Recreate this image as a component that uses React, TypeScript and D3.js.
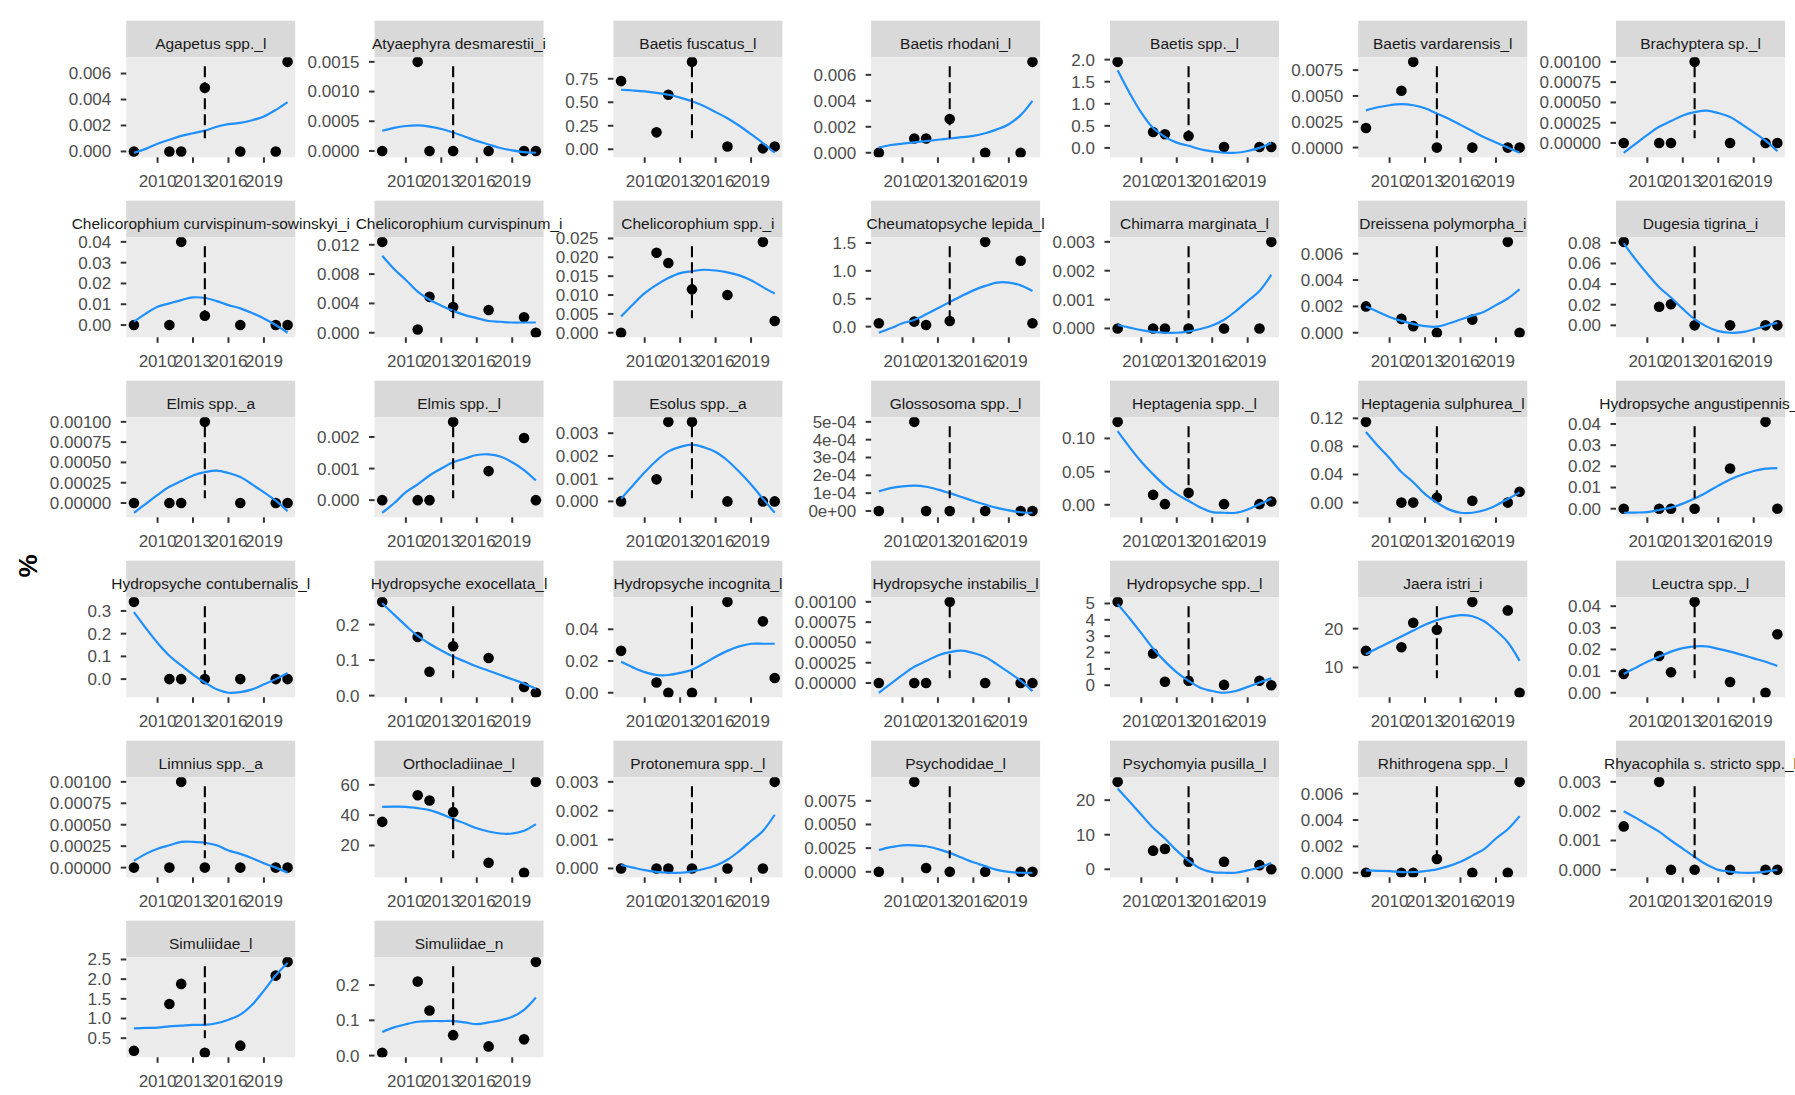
import React, { useMemo } from 'react';
import * as d3 from 'd3';

// ---------------- DATA ----------------
const taxa: string[] = [
  'Agapetus spp._l', 'Atyaephyra desmarestii_i', 'Baetis fuscatus_l', 'Baetis rhodani_l', 'Baetis spp._l', 'Baetis vardarensis_l', 'Brachyptera sp._l',
  'Chelicorophium curvispinum-sowinskyi_i', 'Chelicorophium curvispinum_i', 'Chelicorophium spp._i', 'Cheumatopsyche lepida_l', 'Chimarra marginata_l', 'Dreissena polymorpha_i', 'Dugesia tigrina_i',
  'Elmis spp._a', 'Elmis spp._l', 'Esolus spp._a', 'Glossosoma spp._l', 'Heptagenia spp._l', 'Heptagenia sulphurea_l', 'Hydropsyche angustipennis_l',
  'Hydropsyche contubernalis_l', 'Hydropsyche exocellata_l', 'Hydropsyche incognita_l', 'Hydropsyche instabilis_l', 'Hydropsyche spp._l', 'Jaera istri_i', 'Leuctra spp._l',
  'Limnius spp._a', 'Orthocladiinae_l', 'Protonemura spp._l', 'Psychodidae_l', 'Psychomyia pusilla_l', 'Rhithrogena spp._l', 'Rhyacophila s. stricto spp._l',
  'Simuliidae_l', 'Simuliidae_n',
];

const sampleYears: number[] = [2008, 2011, 2012, 2014, 2017, 2020, 2021];

// observed % per taxon, one value per sample year
const abundance: number[][] = [
  [0, 0, 0, 0.0049, 0, 0, 0.0069],
  [0, 0.0015, 0, 0, 0, 0, 0],
  [0.725, 0.18, 0.58, 0.93, 0.03, 0.01, 0.03],
  [0, 0.0011, 0.0011, 0.0026, 0, 0, 0.007],
  [1.95, 0.36, 0.31, 0.27, 0.02, 0.02, 0.02],
  [0.0019, 0.0055, 0.0083, 0, 0, 0, 0],
  [0, 0, 0, 0.001, 0, 0, 0],
  [0, 0, 0.04, 0.0045, 0, 0, 0],
  [0.0124, 0.00045, 0.0049, 0.0035, 0.0031, 0.0021, 0],
  [0, 0.0212, 0.0185, 0.0115, 0.01, 0.0241, 0.0031],
  [0.06, 0.09, 0.03, 0.1, 1.52, 1.18, 0.06],
  [0, 0, 0, 0, 0, 0, 0.003],
  [0.002, 0.00105, 0.0005, 0, 0.001, 0.0069, 0],
  [0.081, 0.018, 0.0205, 0, 0, 0, 0],
  [0, 0, 0, 0.001, 0, 0, 0],
  [0, 0, 0, 0.00248, 0.00092, 0.00197, 0],
  [0, 0.00097, 0.0035, 0.0035, 0, 0, 0],
  [0, 0.0005, 0, 0, 0, 0, 0],
  [0.125, 0.015, 0.001, 0.018, 0.001, 0.001, 0.005],
  [0.115, 0, 0, 0.007, 0.0025, 0, 0.0155],
  [0, 0, 0, 0, 0.019, 0.041, 0],
  [0.34, 0, 0, 0, 0, 0, 0],
  [0.264, 0.165, 0.067, 0.139, 0.106, 0.024, 0.008],
  [0.0264, 0.0065, 0, 0, 0.0573, 0.045, 0.0093],
  [0, 0, 0, 0.001, 0, 0, 0],
  [5.1, 1.94, 0.21, 0.27, 0.02, 0.27, 0],
  [14.3, 15.2, 21.5, 19.7, 26.9, 24.7, 3.5],
  [0.0087, 0.017, 0.0095, 0.042, 0.005, 0, 0.027],
  [0, 0, 0.001, 0, 0, 0, 0],
  [35.6, 53.2, 49.7, 42.0, 8.6, 2.0, 62.0],
  [0, 0, 0, 0, 0, 0, 0.003],
  [0, 0.0095, 0.0004, 0, 0, 0, 0],
  [25.3, 5.4, 5.9, 2.2, 2.2, 1.2, 0],
  [0, 0, 0, 0.00104, 0, 0, 0.0069],
  [0.00148, 0.003, 0, 0, 0, 0, 0],
  [0.18, 1.37, 1.88, 0.13, 0.31, 2.09, 2.44],
  [0.008, 0.21, 0.128, 0.058, 0.026, 0.046, 0.266],
];

const fitYears: number[] = [2008, 2009, 2010, 2011, 2012, 2013, 2014, 2015, 2016, 2017, 2018, 2019, 2020, 2021];

// smoothed trend, one value per fit year
const fitted: number[][] = [
  [-0.0001, 0.0002, 0.0006, 0.0009, 0.0012, 0.0014, 0.0016, 0.0019, 0.0021, 0.0022, 0.0024, 0.0027, 0.0032, 0.0038],
  [0.00034, 0.00039, 0.00042, 0.00043, 0.00041, 0.00037, 0.00031, 0.00024, 0.00017, 0.00011, 0.00005, 0.00001, -0.00002, -0.00003],
  [0.633, 0.625, 0.615, 0.6, 0.58, 0.55, 0.51, 0.46, 0.395, 0.33, 0.25, 0.16, 0.066, -0.037],
  [0.0004, 0.0006, 0.0007, 0.0008, 0.0009, 0.001, 0.0011, 0.0012, 0.0013, 0.0015, 0.0018, 0.0022, 0.0029, 0.004],
  [1.76, 1.25, 0.8, 0.45, 0.25, 0.12, 0.05, -0.03, -0.08, -0.11, -0.11, -0.07, 0.0, 0.11],
  [0.0036, 0.0039, 0.0041, 0.0042, 0.0041, 0.0038, 0.0033, 0.0028, 0.0022, 0.0016, 0.001, 0.0005, 0.0, -0.0005],
  [-0.00012, -0.00001, 0.0001, 0.0002, 0.00027, 0.00034, 0.00038, 0.0004, 0.00037, 0.00032, 0.00023, 0.00013, 0.00003, -0.0001],
  [0.0016, 0.0055, 0.0088, 0.0104, 0.012, 0.0133, 0.013, 0.0115, 0.0096, 0.008, 0.0058, 0.0032, 0.0, -0.0037],
  [0.0105, 0.0087, 0.0072, 0.0056, 0.0045, 0.0037, 0.003, 0.0024, 0.002, 0.0016, 0.0015, 0.0014, 0.0014, 0.0014],
  [0.0043, 0.0075, 0.0105, 0.0127, 0.0145, 0.0158, 0.0163, 0.0167, 0.0165, 0.016, 0.0152, 0.0139, 0.0121, 0.0104],
  [-0.11, -0.03, 0.06, 0.12, 0.22, 0.33, 0.44, 0.55, 0.65, 0.73, 0.79, 0.79, 0.74, 0.64],
  [0.00012, 0.00003, -0.00006, -0.00012, -0.00015, -0.00015, -0.0001, -0.00002, 0.0001, 0.0003, 0.0006, 0.00095, 0.0013, 0.00186],
  [0.002, 0.0016, 0.0012, 0.0009, 0.00067, 0.0005, 0.00046, 0.0007, 0.001, 0.0013, 0.0016, 0.0021, 0.0026, 0.0033],
  [0.0796, 0.064, 0.05, 0.037, 0.027, 0.016, 0.006, -0.001, -0.0056, -0.0072, -0.0066, -0.004, -0.0007, 0.0026],
  [-0.00012, -0.00001, 0.0001, 0.0002, 0.00027, 0.00034, 0.00038, 0.0004, 0.00037, 0.00032, 0.00023, 0.00013, 0.00003, -0.0001],
  [-0.0004, -0.0001, 0.00025, 0.0005, 0.00078, 0.001, 0.0012, 0.00132, 0.00143, 0.00145, 0.00138, 0.0012, 0.00095, 0.00062],
  [0.00012, 0.0007, 0.00128, 0.0018, 0.0022, 0.0024, 0.0025, 0.00238, 0.00217, 0.0018, 0.0013, 0.00074, 0.00012, -0.0005],
  [0.00011, 0.000128, 0.000138, 0.000142, 0.000136, 0.00012, 0.0001, 0.000078, 0.000056, 0.000036, 0.000017, 0.000003, -0.000007, -0.00001],
  [0.111, 0.087, 0.065, 0.046, 0.029, 0.016, 0.006, -0.004, -0.011, -0.012, -0.012, -0.007, 0.001, 0.009],
  [0.1006, 0.081, 0.063, 0.0435, 0.029, 0.012, 0.0, -0.0097, -0.0145, -0.0145, -0.011, -0.004, 0.005, 0.0145],
  [-0.0019, -0.0018, -0.0016, -0.0006, 0.0005, 0.0024, 0.0048, 0.0077, 0.0109, 0.0138, 0.016, 0.0178, 0.0189, 0.0192],
  [0.295, 0.225, 0.159, 0.103, 0.06, 0.02, -0.015, -0.045, -0.06, -0.057, -0.045, -0.023, 0.0, 0.027],
  [0.26, 0.228, 0.197, 0.168, 0.146, 0.127, 0.11, 0.096, 0.082, 0.07, 0.058, 0.046, 0.034, 0.019],
  [0.0195, 0.016, 0.013, 0.0112, 0.0112, 0.0125, 0.0145, 0.0184, 0.0227, 0.0264, 0.0292, 0.0309, 0.0309, 0.0309],
  [-0.00012, -0.00001, 0.0001, 0.0002, 0.00027, 0.00034, 0.00038, 0.0004, 0.00037, 0.00032, 0.00023, 0.00013, 0.00003, -0.0001],
  [4.96, 4.1, 3.19, 2.25, 1.46, 0.79, 0.27, -0.15, -0.35, -0.46, -0.35, -0.1, 0.17, 0.42],
  [13.4, 15.0, 16.5, 18.0, 19.5, 21.0, 22.2, 23.0, 23.5, 23.2, 21.9, 19.5, 16.5, 11.7],
  [0.0087, 0.0115, 0.0143, 0.0167, 0.019, 0.0206, 0.0214, 0.0214, 0.0203, 0.019, 0.0175, 0.0159, 0.0143, 0.0124],
  [0.00008, 0.00016, 0.00022, 0.00026, 0.0003, 0.0003, 0.00029, 0.00026, 0.0002, 0.00016, 0.00011, 0.00005, 0.0, -0.00006],
  [45.5, 45.6, 45.5, 44.6, 43.3, 40.7, 37.4, 34.5, 31.4, 29.2, 27.9, 27.9, 29.7, 34.1],
  [0.00012, 0.00003, -0.00006, -0.00012, -0.00015, -0.00015, -0.0001, -0.00002, 0.0001, 0.0003, 0.0006, 0.00095, 0.0013, 0.00186],
  [0.0023, 0.0026, 0.0028, 0.0028, 0.0027, 0.0024, 0.002, 0.0015, 0.001, 0.0006, 0.0002, 0.0, -0.0001, -0.0001],
  [23.4, 19.6, 15.8, 12.0, 8.9, 5.4, 2.5, 0.2, -0.8, -1.0, -1.0, -0.3, 0.5, 1.8],
  [0.00018, 0.00015, 0.00013, 0.00005, 0.00005, 0.00013, 0.00026, 0.0005, 0.00083, 0.0013, 0.0018, 0.0026, 0.0033, 0.0043],
  [0.002, 0.00178, 0.00154, 0.0013, 0.001, 0.00072, 0.00044, 0.00018, 0.0, -0.00006, -0.0001, -0.0001, -0.00006, 0.0],
  [0.75, 0.76, 0.77, 0.8, 0.82, 0.84, 0.84, 0.88, 0.97, 1.1, 1.35, 1.71, 2.1, 2.41],
  [0.067, 0.08, 0.089, 0.096, 0.098, 0.098, 0.098, 0.094, 0.089, 0.094, 0.1, 0.11, 0.13, 0.165],
];

// y tick labels per panel (tick values are parsed from them)
const yTickLabels: string[][] = [
  ['0.000', '0.002', '0.004', '0.006'],
  ['0.0000', '0.0005', '0.0010', '0.0015'],
  ['0.00', '0.25', '0.50', '0.75'],
  ['0.000', '0.002', '0.004', '0.006'],
  ['0.0', '0.5', '1.0', '1.5', '2.0'],
  ['0.0000', '0.0025', '0.0050', '0.0075'],
  ['0.00000', '0.00025', '0.00050', '0.00075', '0.00100'],
  ['0.00', '0.01', '0.02', '0.03', '0.04'],
  ['0.000', '0.004', '0.008', '0.012'],
  ['0.000', '0.005', '0.010', '0.015', '0.020', '0.025'],
  ['0.0', '0.5', '1.0', '1.5'],
  ['0.000', '0.001', '0.002', '0.003'],
  ['0.000', '0.002', '0.004', '0.006'],
  ['0.00', '0.02', '0.04', '0.06', '0.08'],
  ['0.00000', '0.00025', '0.00050', '0.00075', '0.00100'],
  ['0.000', '0.001', '0.002'],
  ['0.000', '0.001', '0.002', '0.003'],
  ['0e+00', '1e-04', '2e-04', '3e-04', '4e-04', '5e-04'],
  ['0.00', '0.05', '0.10'],
  ['0.00', '0.04', '0.08', '0.12'],
  ['0.00', '0.01', '0.02', '0.03', '0.04'],
  ['0.0', '0.1', '0.2', '0.3'],
  ['0.0', '0.1', '0.2'],
  ['0.00', '0.02', '0.04'],
  ['0.00000', '0.00025', '0.00050', '0.00075', '0.00100'],
  ['0', '1', '2', '3', '4', '5'],
  ['10', '20'],
  ['0.00', '0.01', '0.02', '0.03', '0.04'],
  ['0.00000', '0.00025', '0.00050', '0.00075', '0.00100'],
  ['20', '40', '60'],
  ['0.000', '0.001', '0.002', '0.003'],
  ['0.0000', '0.0025', '0.0050', '0.0075'],
  ['0', '10', '20'],
  ['0.000', '0.002', '0.004', '0.006'],
  ['0.000', '0.001', '0.002', '0.003'],
  ['0.5', '1.0', '1.5', '2.0', '2.5'],
  ['0.0', '0.1', '0.2'],
];

const xTickYears: number[] = [2010, 2013, 2016, 2019];
const interventionYear = 2014;
const yTitle = '%';

// ---------------- LAYOUT / STYLE ----------------
const W = 1795;
const H = 1095;
const NCOL = 7;
const FONT = "'Liberation Sans', Arial, Helvetica, sans-serif";
const FS_STRIP = 15.5;
const FS_AXIS = 17;
const PANEL_W = 169;
const STRIP_H = 36.6;
const PANEL_H = 100;
const ROW_PITCH = 180;
const TOP = 20.7;
const TICK = 5.5;
const TICK_GAP = 9.5;
const LEFT0 = 49.8;
const SPACING = 12.3;
const PT_R = 5.3;
const SMOOTH_COL = '#1e8fff';

function textWidth(s: string, fs: number): number {
  const c = document.createElement('canvas').getContext('2d');
  if (!c) return s.length * fs * 0.55;
  c.font = `${fs}px ${FONT}`;
  return c.measureText(s).width;
}

export default function App() {
  const layout = useMemo(() => {
    const axisW: number[] = [];
    for (let c = 0; c < NCOL; c++) {
      let m = 0;
      taxa.forEach((_, i) => {
        if (i % NCOL === c) yTickLabels[i].forEach((l) => { m = Math.max(m, textWidth(l, FS_AXIS)); });
      });
      axisW.push(m + TICK + TICK_GAP);
    }
    const lefts: number[] = [];
    for (let c = 0; c < NCOL; c++) {
      lefts.push(c === 0 ? LEFT0 + axisW[0] : lefts[c - 1] + PANEL_W + SPACING + axisW[c]);
    }
    return { lefts };
  }, []);

  const x = d3.scaleLinear()
    .domain(((): [number, number] => {
      const [a, b] = d3.extent(sampleYears) as [number, number];
      const e = (b - a) * 0.05;
      return [a - e, b + e];
    })())
    .range([0, PANEL_W]);

  return (
    <svg width={W} height={H} style={{ position: 'absolute', left: 0, top: 0, background: '#fff' }}
      fontFamily={FONT}>
      <rect x={0} y={0} width={W} height={H} fill="#ffffff" />
      <text transform={`translate(27.5,566) rotate(-90)`} textAnchor="middle" dy="0.35em"
        fontSize={26} fontWeight="bold" fill="#000">{yTitle}</text>
      {taxa.map((name, i) => {
        const col = i % NCOL;
        const row = Math.floor(i / NCOL);
        const gx = layout.lefts[col];
        const gy = TOP + row * ROW_PITCH;
        const vals = abundance[i];
        const fit = fitted[i];
        const all = vals.concat(fit);
        const lo = d3.min(all) as number;
        const hi = d3.max(all) as number;
        const ex = (hi - lo) * 0.05;
        const y = d3.scaleLinear().domain([lo - ex, hi + ex]).range([STRIP_H + PANEL_H, STRIP_H]);
        const line = d3.line<number>()
          .x((_, k) => x(fitYears[k]))
          .y((d) => y(d))
          .curve(d3.curveCatmullRom.alpha(0.5));
        const clipId = `clip-${i}`;
        const py0 = STRIP_H;
        const py1 = STRIP_H + PANEL_H;
        return (
          <g key={name} transform={`translate(${gx},${gy})`}>
            <defs>
              <clipPath id={clipId}>
                <rect x={0} y={py0} width={PANEL_W} height={PANEL_H} />
              </clipPath>
            </defs>
            <rect x={0} y={0} width={PANEL_W} height={STRIP_H} fill="#d9d9d9" />
            <text x={PANEL_W / 2} y={STRIP_H * 0.62} dy="0.35em" textAnchor="middle"
              fontSize={FS_STRIP} fill="#1a1a1a">{name}</text>
            <rect x={0} y={py0} width={PANEL_W} height={PANEL_H} fill="#ebebeb" />
            <g clipPath={`url(#${clipId})`}>
              {vals.map((v, k) => (
                <circle key={k} cx={x(sampleYears[k])} cy={y(v)} r={PT_R} fill="#000" />
              ))}
              <path d={line(fit) || ''} fill="none" stroke={SMOOTH_COL} strokeWidth={2.2} />
              <line x1={x(interventionYear)} x2={x(interventionYear)}
                y1={py0 + PANEL_H * 0.09} y2={py0 + PANEL_H * 0.81}
                stroke="#000" strokeWidth={2.1} strokeDasharray="11 5" />
            </g>
            {yTickLabels[i].map((lab) => {
              const v = Number(lab);
              const yy = y(v);
              return (
                <g key={lab}>
                  <line x1={-TICK} x2={0} y1={yy} y2={yy} stroke="#333" strokeWidth={2} />
                  <text x={-TICK - TICK_GAP} y={yy} dy="0.35em" textAnchor="end" fontSize={FS_AXIS} fill="#4d4d4d">{lab}</text>
                </g>
              );
            })}
            {xTickYears.map((yr) => (
              <g key={yr}>
                <line x1={x(yr)} x2={x(yr)} y1={py1} y2={py1 + TICK} stroke="#333" strokeWidth={2} />
                <text x={x(yr)} y={py1 + 24} dy="0.35em" textAnchor="middle" fontSize={FS_AXIS} fill="#4d4d4d">{yr}</text>
              </g>
            ))}
          </g>
        );
      })}
    </svg>
  );
}
